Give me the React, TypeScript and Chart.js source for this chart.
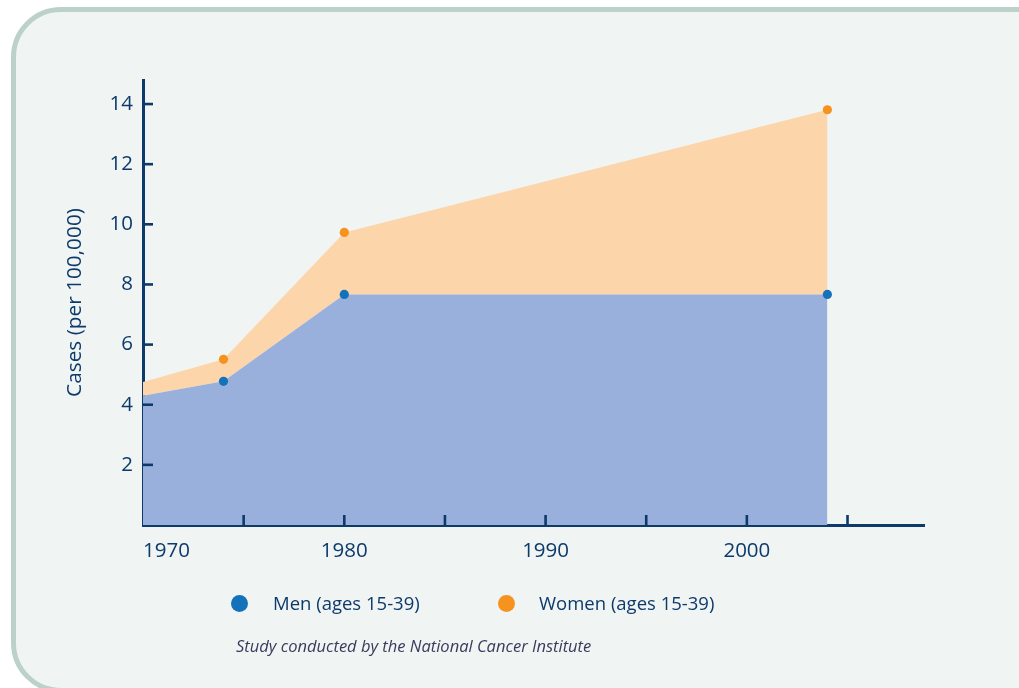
import React, { useEffect, useRef } from 'react';
import { Chart, registerables } from 'chart.js';

Chart.register(...registerables);

const years = [1970, 1974, 1980, 2004];
const menValues = [4.3, 4.78, 7.67, 7.67];
const womenValues = [4.76, 5.51, 9.73, 13.81];
const xTickMarks = [1975, 1980, 1985, 1990, 1995, 2000, 2005];
const xTickLabels = [1970, 1980, 1990, 2000];
const yTickValues = [2, 4, 6, 8, 10, 12, 14];
const seriesLabels = ['Men (ages 15-39)', 'Women (ages 15-39)'];
const yAxisTitle = 'Cases (per 100,000)';
const footnote = 'Study conducted by the National Cancer Institute';

const NAVY = '#0d3a6b';
const MEN_FILL = '#98b0db';
const WOMEN_FILL = '#fdd5aa';
const MEN_DOT = '#1472bb';
const WOMEN_DOT = '#f6921e';
const FONT = "'Open Sans', sans-serif";

const innerTicks = {
  id: 'innerTicks',
  afterDraw(chart: any) {
    const { ctx, chartArea, scales } = chart;
    const x = scales.x;
    const y = scales.y;
    ctx.save();
    ctx.strokeStyle = NAVY;
    ctx.lineWidth = 2.6;
    xTickMarks.forEach((v) => {
      const px = x.getPixelForValue(v);
      ctx.beginPath();
      ctx.moveTo(px, chartArea.bottom);
      ctx.lineTo(px, chartArea.bottom - 10);
      ctx.stroke();
    });
    yTickValues.forEach((v) => {
      const py = y.getPixelForValue(v);
      ctx.beginPath();
      ctx.moveTo(chartArea.left, py);
      ctx.lineTo(chartArea.left + 10, py);
      ctx.stroke();
    });
    ctx.restore();
  },
};

export default function App() {
  const canvasRef = useRef<HTMLCanvasElement | null>(null);

  useEffect(() => {
    if (!canvasRef.current) return;
    const chart = new Chart(canvasRef.current, {
      type: 'line',
      data: {
        datasets: [
          {
            label: seriesLabels[0],
            data: years.map((yr, i) => ({ x: yr, y: menValues[i] })),
            backgroundColor: MEN_FILL,
            borderColor: 'rgba(0,0,0,0)',
            borderWidth: 0,
            fill: 'origin',
            pointRadius: (c: any) => (c.dataIndex === 0 ? 0 : 4.6),
            pointBackgroundColor: MEN_DOT,
            pointBorderWidth: 0,
            tension: 0,
          },
          {
            label: seriesLabels[1],
            data: years.map((yr, i) => ({ x: yr, y: womenValues[i] })),
            backgroundColor: WOMEN_FILL,
            borderColor: 'rgba(0,0,0,0)',
            borderWidth: 0,
            fill: '-1',
            pointRadius: (c: any) => (c.dataIndex === 0 ? 0 : 4.6),
            pointBackgroundColor: WOMEN_DOT,
            pointBorderWidth: 0,
            tension: 0,
          },
        ],
      },
      options: {
        responsive: false,
        animation: false,
        layout: { padding: { left: 0, right: 95, top: 80, bottom: 123 } },
        plugins: {
          legend: { display: false },
          tooltip: { enabled: false },
        },
        scales: {
          x: {
            type: 'linear',
            min: 1970,
            max: 2008.8,
            z: 1,
            grid: { display: false, drawTicks: false },
            border: { display: true, color: NAVY, width: 3 },
            afterFit: (s: any) => {
              s.height = 40;
            },
            ticks: {
              stepSize: 5,
              autoSkip: false,
              maxRotation: 0,
              align: 'inner',
              padding: 14,
              color: NAVY,
              font: { family: FONT, size: 20.5 },
              callback: (v: any) => (xTickLabels.includes(Number(v)) ? String(v) : ''),
            },
          },
          y: {
            type: 'linear',
            min: 0,
            max: 14.8,
            z: 1,
            grid: { display: false, drawTicks: false },
            border: { display: true, color: NAVY, width: 3 },
            afterFit: (s: any) => {
              s.width = 143;
            },
            title: {
              display: true,
              text: yAxisTitle,
              color: NAVY,
              font: { family: FONT, size: 20.8 },
              padding: { top: 63, bottom: 0 },
            },
            ticks: {
              stepSize: 2,
              padding: 10,
              color: NAVY,
              font: { family: FONT, size: 20.5 },
              callback: (v: any) => (yTickValues.includes(Number(v)) ? String(v) : ''),
            },
          },
        },
      },
      plugins: [innerTicks],
    } as any);
    return () => chart.destroy();
  }, []);

  const legendText: React.CSSProperties = {
    position: 'absolute',
    top: 590,
    fontFamily: FONT,
    fontSize: 18.5,
    lineHeight: '26px',
    color: NAVY,
    whiteSpace: 'nowrap',
  };
  const dot = (color: string, left: number): React.CSSProperties => ({
    position: 'absolute',
    left: left - 8.5,
    top: 603.5 - 8.5,
    width: 17,
    height: 17,
    borderRadius: '50%',
    background: color,
  });

  return (
    <div
      style={{
        position: 'fixed',
        left: 0,
        top: 0,
        width: 1019,
        height: 688,
        overflow: 'hidden',
        background: '#ffffff',
      }}
    >
      <div
        style={{
          position: 'absolute',
          left: 11,
          top: 7,
          width: 1060,
          height: 686,
          boxSizing: 'border-box',
          border: '5px solid #bcd1c8',
          borderRadius: 50,
          background: '#f0f4f3',
        }}
      />
      <canvas
        ref={canvasRef}
        width={1019}
        height={688}
        style={{ position: 'absolute', left: 0, top: 0, width: 1019, height: 688 }}
      />
      <div style={dot(MEN_DOT, 239)} />
      <div style={{ ...legendText, left: 273 }}>{seriesLabels[0]}</div>
      <div style={dot(WOMEN_DOT, 506)} />
      <div style={{ ...legendText, left: 539 }}>{seriesLabels[1]}</div>
      <div
        style={{
          position: 'absolute',
          left: 236,
          top: 635,
          fontFamily: FONT,
          fontStyle: 'italic',
          fontSize: 16.5,
          lineHeight: '22px',
          color: '#3b3a5c',
          whiteSpace: 'nowrap',
        }}
      >
        {footnote}
      </div>
    </div>
  );
}
